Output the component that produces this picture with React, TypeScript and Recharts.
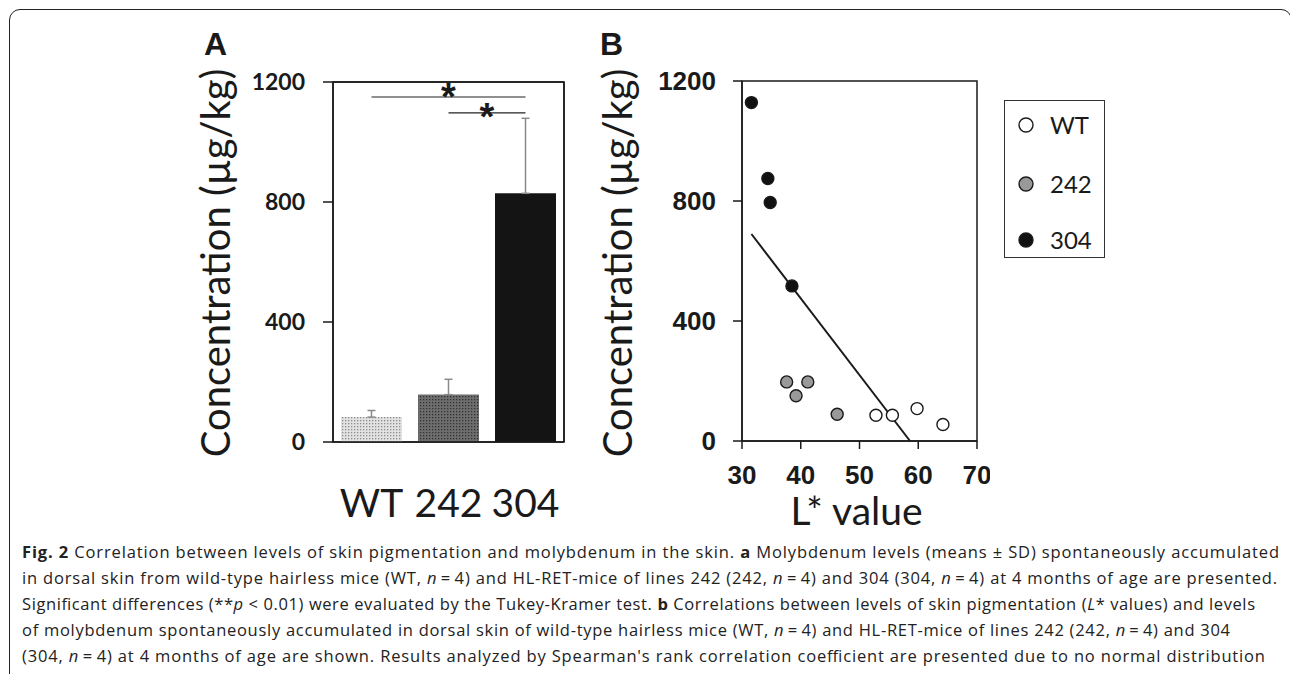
import { BarChart, Bar, XAxis, YAxis, Cell, ErrorBar, ReferenceLine, ReferenceArea, ScatterChart, Scatter, CartesianGrid } from "recharts";

// Panel A: molybdenum (means ± SD)
const groups = ["WT", "242", "304"];
const meanMo = [83, 158, 829];
const sdMo = [22, 51, 250];
const barFills = ["url(#dotsLight)", "url(#dotsDark)", "#141414"];
const concTicks = [0, 400, 800, 1200];

// significance brackets (group pairs)
const sigFrom = ["WT", "242"];
const sigTo = ["304", "304"];
const sigLevel = [1150, 1097];

// Panel B: L* value vs concentration
const wtL = [52.8, 55.6, 59.8, 64.2];
const wtConc = [86, 86, 108, 55];
const l242 = [37.6, 41.2, 39.2, 46.2];
const conc242 = [197, 197, 151, 89];
const l304 = [31.6, 34.4, 34.8, 38.5];
const conc304 = [1128, 875, 795, 517];
const lTicks = [30, 40, 50, 60, 70];
const fitL = [31.6, 58.6];
const fitConc = [690, 0];

const legendNames = ["WT", "242", "304"];
const dotFills = ["#ffffff", "#999999", "#111111"];

// category slot i sits at i + 0.5 on a [0, n] axis
const slotOf = (g: string) => groups.indexOf(g) + 0.5;
const barData = groups.map((g, i) => ({ group: g, slot: slotOf(g), mean: meanMo[i], err: [0, sdMo[i]] }));
const pts = (xs: number[], ys: number[]) => xs.map((l, i) => ({ l, c: ys[i] }));
const seriesB = [pts(wtL, wtConc), pts(l242, conc242), pts(l304, conc304)];

const INK = "#1a1a1a";
const calibriLike = "Lato, 'Open Sans', sans-serif";
const arialLike = "'Liberation Sans', Arial, sans-serif";
const frameLine = { stroke: INK, strokeWidth: 1.5 };

const yTitle = (cx: number) => () => (
  <text x={cx} y={263} transform={`rotate(-90 ${cx} 263)`} textAnchor="middle"
    fontFamily={calibriLike} fontSize={40} fill={INK}>
    Concentration (µg/kg)
  </text>
);

const dot = (p: any) => (
  <circle cx={p.cx} cy={p.cy} r={6} fill={p.fill} stroke={INK} strokeWidth={1.4} />
);

// frame edges taken from the chart's own plot offset
const topEdge = (p: any) => [p.offset.top];
const rightEdge = (p: any) => [p.offset.left + p.offset.width];

function PanelA() {
  return (
    <BarChart width={600} height={560} data={barData} margin={{ top: 82, right: 36, bottom: 0, left: 0 }}>
      <defs>
        <pattern id="dotsLight" width="3" height="3" patternUnits="userSpaceOnUse">
          <rect width="3" height="3" fill="#e2e2e2" />
          <rect width="1.3" height="1.3" fill="#8c8c8c" />
        </pattern>
        <pattern id="dotsDark" width="3" height="3" patternUnits="userSpaceOnUse">
          <rect width="3" height="3" fill="#6e6e6e" />
          <rect width="1.3" height="1.3" fill="#333333" />
        </pattern>
      </defs>
      <CartesianGrid horizontalCoordinatesGenerator={topEdge} verticalCoordinatesGenerator={rightEdge}
        stroke={INK} strokeWidth={1.5} />
      <XAxis type="number" dataKey="slot" domain={[0, groups.length]} ticks={barData.map((d) => d.slot)}
        tickFormatter={(v: number) => groups[Math.floor(v)]}
        interval={0} height={118} tickLine={false} tickSize={0} tickMargin={47}
        axisLine={frameLine}
        tick={{ fontFamily: calibriLike, fontSize: 39, fill: INK }} />
      <YAxis domain={[0, 1200]} ticks={concTicks} width={333} tickSize={10} tickMargin={18}
        axisLine={frameLine} tickLine={frameLine}
        tick={{ fontFamily: calibriLike, fontWeight: 700, fontSize: 23, fill: INK }}
        label={yTitle(230)} />
      <ReferenceArea x1={0} x2={groups.length} y1={0} y2={1200} ifOverflow="visible"
        fill="none" fillOpacity={0} stroke={INK} strokeWidth={1.5} />
      <Bar dataKey="mean" barSize={61} isAnimationActive={false}>
        {barData.map((d, i) => <Cell key={d.group} fill={barFills[i]} />)}
        <ErrorBar dataKey="err" width={4} stroke="#8a8a8a" strokeWidth={1.5} direction="y" />
      </Bar>
      {sigFrom.map((from, i) => (
        <ReferenceLine key={from} segment={[{ x: slotOf(from), y: sigLevel[i] }, { x: slotOf(sigTo[i]), y: sigLevel[i] }]}
          stroke="#222" strokeWidth={1.2}
          label={{ value: "*", position: "center", dy: i === 0 ? 0 : 3.5, fontFamily: arialLike, fontWeight: 700, fontSize: 38, fill: INK }} />
      ))}
    </BarChart>
  );
}

function PanelB() {
  return (
    <ScatterChart width={400} height={560} margin={{ top: 81, right: 13, bottom: 0, left: 0 }}>
      <XAxis type="number" dataKey="l" domain={[30, 70]} ticks={lTicks} height={119} tickSize={8} tickMargin={17}
        axisLine={frameLine} tickLine={frameLine}
        tick={{ fontFamily: arialLike, fontWeight: 700, fontSize: 26, fill: INK }}
        label={() => (
          <text x={266.5} y={525} textAnchor="middle" fontFamily={calibriLike} fontSize={39} fill={INK}>L* value</text>
        )} />
      <YAxis type="number" dataKey="c" domain={[0, 1200]} ticks={concTicks} width={152} tickSize={9} tickMargin={17}
        axisLine={frameLine} tickLine={frameLine}
        tick={{ fontFamily: arialLike, fontWeight: 700, fontSize: 26, fill: INK }}
        label={yTitle(41.7)} />
      <ReferenceArea x1={30} x2={70} y1={0} y2={1200} fill="none" fillOpacity={0} stroke={INK} strokeWidth={1.5} />
      {seriesB.map((s, i) => (
        <Scatter key={legendNames[i]} name={legendNames[i]} data={s} fill={dotFills[i]} shape={dot} isAnimationActive={false} />
      ))}
      <ReferenceLine segment={[{ x: fitL[0], y: fitConc[0] }, { x: fitL[1], y: fitConc[1] }]} stroke={INK} strokeWidth={2} />
    </ScatterChart>
  );
}

function Legend() {
  return (
    <div style={{ position: "absolute", left: 1004, top: 100, width: 101, height: 158, boxSizing: "border-box", border: "1.5px solid #333" }}>
      {legendNames.map((n, i) => (
        <div key={n} style={{ position: "absolute", left: 11, top: [12, 71, 127][i], height: 24, display: "flex", alignItems: "center" }}>
          <svg width={20} height={20}>
            <circle cx={10} cy={10} r={7} fill={dotFills[i]} stroke={INK} strokeWidth={1.4} />
          </svg>
          <span style={{ marginLeft: 14, fontFamily: calibriLike, fontSize: 24, lineHeight: "24px", color: INK }}>{n}</span>
        </div>
      ))}
    </div>
  );
}

const eq = "\u2009=\u20094";
const B = (t: string) => <tspan fontWeight={700}>{t}</tspan>;
const I = (t: string) => <tspan fontStyle="italic">{t}</tspan>;

const captionLines = [
  <>{B("Fig. 2")} Correlation between levels of skin pigmentation and molybdenum in the skin. {B("a")} Molybdenum levels (means ± SD) spontaneously accumulated</>,
  <>in dorsal skin from wild-type hairless mice (WT, {I("n")}{eq}) and HL-RET-mice of lines 242 (242, {I("n")}{eq}) and 304 (304, {I("n")}{eq}) at 4 months of age are presented.</>,
  <>Significant differences (**{I("p")} &lt; 0.01) were evaluated by the Tukey-Kramer test. {B("b")} Correlations between levels of skin pigmentation ({I("L")}* values) and levels</>,
  <>of molybdenum spontaneously accumulated in dorsal skin of wild-type hairless mice (WT, {I("n")}{eq}) and HL-RET-mice of lines 242 (242, {I("n")}{eq}) and 304</>,
  <>(304, {I("n")}{eq}) at 4 months of age are shown. Results analyzed by Spearman's rank correlation coefficient are presented due to no normal distribution</>,
];
const captionWidths = [1257, 1255, 1233, 1208, 1243];

export default function App() {
  return (
    <div style={{ position: "absolute", left: 0, top: 0, width: 1290, height: 674, overflow: "hidden", background: "#fff" }}>
      <div style={{ position: "absolute", left: 9, top: 9, width: 1283, height: 720, boxSizing: "border-box", border: "1.5px solid #222", borderRadius: 11 }} />
      <div style={{ position: "absolute", left: 204, top: 28, fontFamily: arialLike, fontWeight: 700, fontSize: 32, lineHeight: "32px", color: INK }}>A</div>
      <div style={{ position: "absolute", left: 600, top: 28, fontFamily: arialLike, fontWeight: 700, fontSize: 32, lineHeight: "32px", color: INK }}>B</div>
      <div style={{ position: "absolute", left: 0, top: 0 }}><PanelA /></div>
      <div style={{ position: "absolute", left: 590, top: 0 }}><PanelB /></div>
      <Legend />
      <svg width={1290} height={674} style={{ position: "absolute", left: 0, top: 0 }}>
        {captionLines.map((line, i) => (
          <text key={i} x={22} y={558 + 26 * i} textLength={captionWidths[i]} lengthAdjust="spacing"
            fontFamily="'Open Sans', 'Noto Sans', sans-serif" fontSize={16.5} fill="#222">
            {line}
          </text>
        ))}
      </svg>
    </div>
  );
}
